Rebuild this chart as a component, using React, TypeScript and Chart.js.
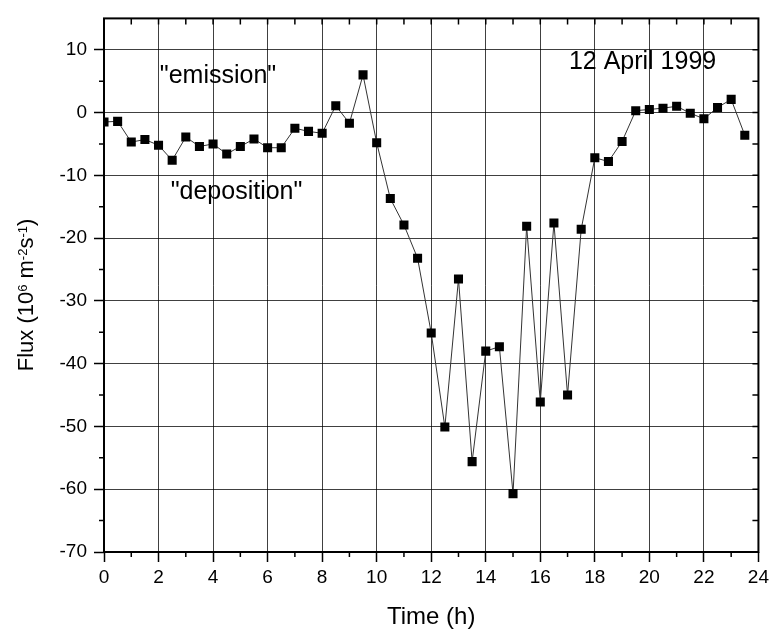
import React, { useEffect, useRef } from "react";
import { Chart, registerables } from "chart.js";

Chart.register(...registerables);

// ---- data ----
const TIMES = [
  0, 0.5, 1, 1.5, 2, 2.5, 3, 3.5, 4, 4.5, 5, 5.5, 6, 6.5, 7, 7.5, 8, 8.5, 9, 9.5,
  10, 10.5, 11, 11.5, 12, 12.5, 13, 13.5, 14, 14.5, 15, 15.5, 16, 16.5, 17, 17.5,
  18, 18.5, 19, 19.5, 20, 20.5, 21, 21.5, 22, 22.5, 23, 23.5,
];
const FLUX = [
  -1.5, -1.4, -4.7, -4.3, -5.2, -7.6, -3.9, -5.4, -5.0, -6.6, -5.4, -4.2, -5.6, -5.6,
  -2.5, -3.0, -3.3, 1.1, -1.7, 6.0, -4.8, -13.7, -17.9, -23.2, -35.1, -50.1, -26.5,
  -55.6, -38.0, -37.3, -60.7, -18.1, -46.1, -17.6, -45.0, -18.6, -7.2, -7.8, -4.6,
  0.3, 0.5, 0.7, 1.0, -0.1, -1.0, 0.8, 2.1, -3.6,
];

const Y_TICKS = [-70, -60, -50, -40, -30, -20, -10, 0, 10];
const Y_MINOR = [-65, -55, -45, -35, -25, -15, -5, 5];
const Y_RIGHT = [-65, -60, -55, -50, -45, -40, -35, -30, -25, -20, -15, -10, -5, 0, 5, 10];
const X_MINOR = [1, 3, 5, 7, 9, 11, 13, 15, 17, 19, 21, 23];
const X_TOP = [1, 2, 3, 4, 5, 6, 7, 8, 9, 10, 11, 12, 13, 14, 15, 16, 17, 18, 19, 20, 21, 22, 23];

const ANNOT_TEXT = ['"emission"', '"deposition"', "12 April 1999"];
const ANNOT_X = [4.18, 4.86, 19.75];
const ANNOT_Y = [5.8, -12.7, 8.0];

const X_TITLE = "Time (h)";
const Y_TITLE_PARTS: [string, boolean][] = [
  ["Flux (10", false],
  ["6", true],
  [" m", false],
  ["-2", true],
  ["s", false],
  ["-1", true],
  [")", false],
];

const FONT = "'Liberation Sans', Arial, Helvetica, sans-serif";

const decorPlugin = {
  id: "decor",
  afterDraw(chart: any) {
    const { ctx, chartArea: a, scales } = chart;
    const x = scales.x;
    const y = scales.y;
    ctx.save();
    ctx.strokeStyle = "#000";
    ctx.lineWidth = 1.5;
    ctx.beginPath();
    for (const v of X_MINOR) {
      const px = x.getPixelForValue(v);
      ctx.moveTo(px, a.bottom);
      ctx.lineTo(px, a.bottom + 5);
    }
    for (const v of X_TOP) {
      const px = x.getPixelForValue(v);
      ctx.moveTo(px, a.top);
      ctx.lineTo(px, a.top + 6);
    }
    for (const v of Y_MINOR) {
      const py = y.getPixelForValue(v);
      ctx.moveTo(a.left, py);
      ctx.lineTo(a.left - 5, py);
    }
    for (const v of Y_RIGHT) {
      const py = y.getPixelForValue(v);
      ctx.moveTo(a.right, py);
      ctx.lineTo(a.right - 6, py);
    }
    ctx.stroke();

    // frame
    ctx.lineWidth = 2;
    ctx.strokeRect(a.left, a.top, a.right - a.left, a.bottom - a.top);

    // annotations
    ctx.fillStyle = "#000";
    ctx.font = `25px ${FONT}`;
    ctx.textAlign = "center";
    ctx.textBaseline = "middle";
    for (let i = 0; i < ANNOT_TEXT.length; i++) {
      ctx.fillText(ANNOT_TEXT[i], x.getPixelForValue(ANNOT_X[i]), y.getPixelForValue(ANNOT_Y[i]));
    }

    // x title
    ctx.font = `24px ${FONT}`;
    ctx.fillText(X_TITLE, (a.left + a.right) / 2, 617);

    // y title with superscripts
    const big = `22px ${FONT}`;
    const small = `13px ${FONT}`;
    let total = 0;
    for (const [t, sup] of Y_TITLE_PARTS) {
      ctx.font = sup ? small : big;
      total += ctx.measureText(t).width;
    }
    ctx.translate(33, 295);
    ctx.rotate(-Math.PI / 2);
    ctx.textAlign = "left";
    ctx.textBaseline = "alphabetic";
    let u = -total / 2;
    for (const [t, sup] of Y_TITLE_PARTS) {
      ctx.font = sup ? small : big;
      ctx.fillText(t, u, sup ? -6.5 : 0);
      u += ctx.measureText(t).width;
    }
    ctx.restore();
  },
};

export default function App() {
  const ref = useRef<HTMLCanvasElement | null>(null);

  useEffect(() => {
    if (!ref.current) return;
    const chart = new Chart(ref.current, {
      type: "line",
      data: {
        datasets: [
          {
            data: TIMES.map((t, i) => ({ x: t, y: FLUX[i] })),
            borderColor: "#333",
            borderWidth: 1,
            pointStyle: "rect",
            pointRadius: 6.4,
            pointBackgroundColor: "#000",
            pointBorderColor: "#000",
            pointBorderWidth: 0,
            tension: 0,
          },
        ],
      },
      options: {
        responsive: false,
        animation: false,
        layout: { padding: { top: 16, right: 13, left: 0, bottom: 0 } },
        plugins: { legend: { display: false }, tooltip: { enabled: false } },
        scales: {
          x: {
            type: "linear",
            min: 0,
            max: 24,
            ticks: {
              stepSize: 2,
              color: "#000",
              padding: 4,
              font: { family: FONT, size: 19 },
            },
            grid: {
              color: "rgba(0,0,0,0.75)",
              lineWidth: 1,
              drawTicks: true,
              tickLength: 10,
              tickColor: "#000",
              tickWidth: 1.5,
            },
            border: { display: false },
            afterFit: (s: any) => {
              s.height = 78;
            },
          },
          y: {
            type: "linear",
            min: -70,
            max: 15,
            ticks: {
              color: "#000",
              padding: 7,
              font: { family: FONT, size: 19 },
            },
            afterBuildTicks: (s: any) => {
              s.ticks = Y_TICKS.map((v) => ({ value: v }));
            },
            grid: {
              color: "rgba(0,0,0,0.75)",
              lineWidth: 1,
              drawTicks: true,
              tickLength: 10,
              tickColor: "#000",
              tickWidth: 1.5,
            },
            border: { display: false },
            afterFit: (s: any) => {
              s.width = 104;
            },
          },
        },
      },
      plugins: [decorPlugin],
    });
    return () => chart.destroy();
  }, []);

  return (
    <div style={{ position: "fixed", left: 0, top: 0, width: 773, height: 630, background: "#fff" }}>
      <canvas ref={ref} width={773} height={630} style={{ display: "block" }} />
    </div>
  );
}
